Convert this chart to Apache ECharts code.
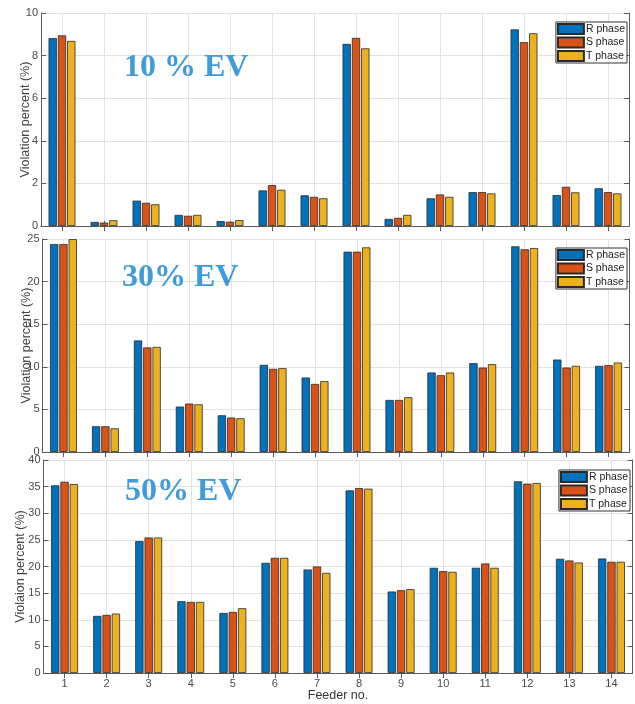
<!DOCTYPE html>
<html>
<head>
<meta charset="utf-8">
<title>Feeder violation percent</title>
<script src="https://cdn.jsdelivr.net/npm/echarts@6/dist/echarts.min.js"></script>
<style>
  html, body { margin: 0; padding: 0; background: #ffffff; }
  #chart { width: 635px; height: 704px; }
</style>
</head>
<body>
<div id="chart"></div>
<script>
// Feeder numbers on the x axis
const feeders = ['1', '2', '3', '4', '5', '6', '7', '8', '9', '10', '11', '12', '13', '14'];
const phaseNames = ['R phase', 'S phase', 'T phase'];

// 10 % EV penetration
const ev10R = [8.82, 0.19, 1.19, 0.52, 0.23, 1.67, 1.44, 8.55, 0.33, 1.30, 1.59, 9.23, 1.45, 1.77];
const ev10S = [8.95, 0.16, 1.09, 0.48, 0.20, 1.92, 1.37, 8.83, 0.38, 1.48, 1.59, 8.63, 1.84, 1.59];
const ev10T = [8.69, 0.27, 1.02, 0.52, 0.28, 1.70, 1.30, 8.34, 0.52, 1.37, 1.53, 9.05, 1.58, 1.53];

// 30 % EV penetration
const ev30R = [24.41, 3.02, 13.09, 5.33, 4.31, 10.23, 8.74, 23.51, 6.11, 9.33, 10.42, 24.14, 10.85, 10.11];
const ev30S = [24.41, 3.02, 12.27, 5.68, 4.04, 9.76, 7.99, 23.51, 6.11, 9.01, 9.91, 23.79, 9.91, 10.19];
const ev30T = [24.98, 2.78, 12.34, 5.60, 3.96, 9.84, 8.31, 24.02, 6.43, 9.33, 10.31, 23.94, 10.11, 10.50];

// 50 % EV penetration
const ev50R = [35.23, 10.72, 24.76, 13.48, 11.28, 20.69, 19.44, 34.29, 15.30, 19.75, 19.75, 35.99, 21.44, 21.50];
const ev50S = [35.92, 10.91, 25.45, 13.35, 11.47, 21.63, 20.00, 34.73, 15.55, 19.12, 20.56, 35.55, 21.13, 20.88];
const ev50T = [35.48, 11.16, 25.45, 13.35, 12.16, 21.63, 18.81, 34.61, 15.74, 19.00, 19.75, 35.67, 20.75, 20.88];

// Panel titles, y-axis names and ranges
const panelTitles = ['10 % EV', '30% EV', '50% EV'];
const yNames = ['Violation percent (%)', 'Violation percent (%)', 'Violaion percent (%)'];
const yMax = [10, 25, 40];
const yStep = [2, 5, 5];

const phaseColors = ['#0072BD', '#D95319', '#EDB120'];
const panelSeries = [[ev10R, ev10S, ev10T], [ev30R, ev30S, ev30T], [ev50R, ev50S, ev50T]];

// Layout of the three stacked panels
const panels = [
  { left: 41,   top: 13,  width: 588, height: 213, legendRight: 8, legendTop: 22,  titleLeft: 124, titleTop: 52,  nameGap: 9 },
  { left: 42.5, top: 239, width: 587, height: 213, legendRight: 8, legendTop: 248, titleLeft: 122, titleTop: 262, nameGap: 9 },
  { left: 43.5, top: 460, width: 589, height: 213, legendRight: 5, legendTop: 470, titleLeft: 125, titleTop: 476, nameGap: 16 }
];

const boxColor = '#5a5a5a';
const gridColor = '#e2e2e2';
const labelColor = '#4a4a4a';
const sansFont = 'Liberation Sans, Arial, sans-serif';

// Half-step positions so that grid lines and top ticks fall on the category centres
const halfSteps = [];
for (let i = 0; i <= feeders.length * 2; i++) halfSteps.push(String(i));
const atCentre = (idx) => idx % 2 === 1;

const grid = [], xAxis = [], yAxis = [], series = [], legend = [], title = [];

panels.forEach((p, k) => {
  grid.push({ left: p.left, top: p.top, width: p.width, height: p.height, containLabel: false });

  const isLast = k === panels.length - 1;
  // bottom category axis carrying the bars
  xAxis.push({
    type: 'category', gridIndex: k, position: 'bottom', data: feeders,
    boundaryGap: true,
    name: isLast ? 'Feeder no.' : '', nameLocation: 'middle', nameGap: 16,
    nameMoveOverlap: false,
    nameTextStyle: { fontFamily: sansFont, fontSize: 12.5, color: '#333' },
    axisLine: { show: true, lineStyle: { color: boxColor, width: 1 } },
    axisTick: { show: true, inside: true, alignWithLabel: true, length: 5, lineStyle: { color: boxColor } },
    axisLabel: { show: isLast, margin: 5, fontFamily: sansFont, fontSize: 11, color: labelColor },
    splitLine: { show: false }
  });
  // top axis: box edge, inward ticks and vertical grid lines
  xAxis.push({
    type: 'category', gridIndex: k, position: 'top', data: halfSteps,
    boundaryGap: false,
    axisLine: { show: true, lineStyle: { color: boxColor, width: 1 } },
    axisTick: { show: true, inside: true, length: 5, interval: atCentre, lineStyle: { color: boxColor } },
    axisLabel: { show: false },
    splitLine: { show: true, interval: atCentre, lineStyle: { color: gridColor, width: 1 } }
  });

  yAxis.push({
    type: 'value', gridIndex: k, position: 'left', min: 0, max: yMax[k], interval: yStep[k],
    name: yNames[k], nameLocation: 'middle', nameGap: p.nameGap, nameRotate: 90,
    nameMoveOverlap: false,
    nameTextStyle: { fontFamily: sansFont, fontSize: 12.5, color: '#444' },
    axisLine: { show: true, lineStyle: { color: boxColor, width: 1 } },
    axisTick: { show: true, inside: true, length: 5, lineStyle: { color: boxColor } },
    axisLabel: { margin: 3, fontFamily: sansFont, fontSize: 11, color: labelColor },
    splitLine: { show: true, lineStyle: { color: gridColor, width: 1 } }
  });
  yAxis.push({
    type: 'value', gridIndex: k, position: 'right', min: 0, max: yMax[k], interval: yStep[k],
    axisLine: { show: true, lineStyle: { color: boxColor, width: 1 } },
    axisTick: { show: true, inside: true, length: 5, lineStyle: { color: boxColor } },
    axisLabel: { show: false },
    splitLine: { show: false }
  });

  panelSeries[k].forEach((values, j) => {
    series.push({
      type: 'bar', name: phaseNames[j],
      xAxisIndex: 2 * k, yAxisIndex: 2 * k,
      data: values,
      barWidth: 8.3, barGap: '12%',
      itemStyle: { color: phaseColors[j], borderColor: '#2a2a2a', borderWidth: 0.8 },
      emphasis: { disabled: true },
      animation: false
    });
  });

  legend.push({
    data: phaseNames, orient: 'vertical',
    right: p.legendRight, top: p.legendTop,
    backgroundColor: '#ffffff', borderColor: '#333333', borderWidth: 1, borderRadius: 0,
    padding: [1, 2, 1, 1], itemGap: 1.5, itemWidth: 26, itemHeight: 10,
    icon: 'rect',
    textStyle: { fontFamily: sansFont, fontSize: 10.5, color: '#222', lineHeight: 10, padding: [0, 0, 0, -3] },
    selectedMode: false
  });

  title.push({
    text: panelTitles[k], left: p.titleLeft, top: p.titleTop, padding: 0,
    textStyle: { fontFamily: 'Liberation Serif, Times New Roman, serif', fontWeight: 'bold', fontSize: 32, lineHeight: 32, color: '#3F9BDA' }
  });
});

const chart = echarts.init(document.getElementById('chart'), null, { renderer: 'canvas' });
chart.setOption({
  animation: false,
  backgroundColor: '#ffffff',
  title, legend, grid, xAxis, yAxis, series
});
</script>
</body>
</html>
